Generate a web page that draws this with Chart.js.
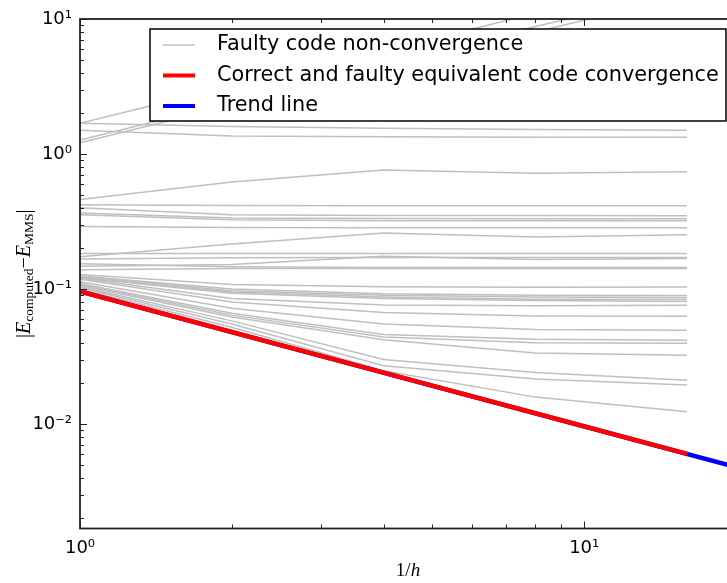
<!DOCTYPE html>
<html lang="en">
<head>
<meta charset="UTF-8">
<title>Code convergence</title>
<script src="https://cdn.jsdelivr.net/npm/chart.js"></script>
<style>
  html, body { margin: 0; padding: 0; background: #fff; overflow: hidden; }
  #wrap { width: 760px; height: 583px; }
</style>
</head>
<body>
<div id="wrap"><canvas id="conv" width="760" height="583"></canvas></div>
<script>
// refinement levels, 1/h
const invH = [1, 2, 4, 8, 16];

// correct code (and faulty but equivalent code): first order
const correctErr = [0.096, 0.048, 0.024, 0.012, 0.006];

// trend line, runs past the last level
const trendX = [1, 20];
const trendErr = [0.096, 0.0048];

// faulty codes that do not converge (one row per code, values at invH)
const faultyErr = [
  [1.69, 3.2, 5.8, 11, 20],
  [1.27, 2.4, 4.6, 8.8, 16],
  [1.21, 2.3, 4.3, 8.0, 15],
  [1.69, 1.60, 1.55, 1.52, 1.50],
  [1.50, 1.36, 1.34, 1.33, 1.33],
  [0.46, 0.62, 0.76, 0.72, 0.74],
  [0.42, 0.415, 0.413, 0.413, 0.413],
  [0.40, 0.355, 0.35, 0.35, 0.349],
  [0.365, 0.335, 0.332, 0.331, 0.331],
  [0.355, 0.325, 0.32, 0.32, 0.32],
  [0.29, 0.285, 0.284, 0.284, 0.284],
  [0.173, 0.215, 0.26, 0.243, 0.252],
  [0.183, 0.183, 0.183, 0.183, 0.183],
  [0.147, 0.152, 0.175, 0.165, 0.168],
  [0.167, 0.17, 0.171, 0.171, 0.171],
  [0.154, 0.146, 0.144, 0.144, 0.144],
  [0.139, 0.142, 0.142, 0.142, 0.142],
  [0.128, 0.108, 0.104, 0.103, 0.1035],
  [0.125, 0.100, 0.092, 0.090, 0.0895],
  [0.124, 0.097, 0.090, 0.087, 0.0865],
  [0.122, 0.095, 0.087, 0.084, 0.0837],
  [0.121, 0.093, 0.085, 0.082, 0.0809],
  [0.12, 0.085, 0.076, 0.075, 0.0756],
  [0.118, 0.080, 0.067, 0.063, 0.0627],
  [0.113, 0.072, 0.055, 0.050, 0.0494],
  [0.110, 0.066, 0.046, 0.0424, 0.0417],
  [0.108, 0.064, 0.044, 0.040, 0.0396],
  [0.106, 0.062, 0.042, 0.0336, 0.0323],
  [0.104, 0.058, 0.030, 0.024, 0.0211],
  [0.102, 0.055, 0.027, 0.0215, 0.0194],
  [0.100, 0.052, 0.0248, 0.0158, 0.0123]
];

const xTicks = [1, 10];
const xTickLabels = ['10⁰', '10¹'];
const yTicks = [0.01, 0.1, 1, 10];
const yTickLabels = ['10⁻²', '10⁻¹', '10⁰', '10¹'];

const legendLabels = [
  'Faulty code non-convergence',
  'Correct and faulty equivalent code convergence',
  'Trend line'
];

const GRAY = '#bfbfbf';

function pts(xs, ys) {
  return xs.map((x, i) => ({ x: x, y: ys[i] }));
}

const datasets = [
  { data: pts(invH, correctErr), borderColor: '#ff0000', borderWidth: 4.5, order: 0 },
  { data: pts(trendX, trendErr), borderColor: '#0000ff', borderWidth: 4.5, order: 1 }
];
faultyErr.forEach(row => {
  datasets.push({ data: pts(invH, row), borderColor: GRAY, borderWidth: 1.5, order: 2 });
});

// frame, inward ticks, axis titles and the boxed legend
const decorations = {
  id: 'decorations',
  afterDraw(chart) {
    const ctx = chart.ctx;
    const a = chart.chartArea;
    const x = chart.scales.x, y = chart.scales.y;
    ctx.save();

    function seg(x1, y1, x2, y2) {
      ctx.beginPath(); ctx.moveTo(x1, y1); ctx.lineTo(x2, y2); ctx.stroke();
    }

    ctx.strokeStyle = '#222';
    ctx.lineWidth = 1;
    for (let d = -3; d <= 1; d++) {
      for (let m = 1; m <= 9; m++) {
        const v = m * Math.pow(10, d);
        if (v >= y.min && v <= y.max) {
          const py = Math.round(y.getPixelForValue(v)) + 0.5;
          const len = m === 1 ? 7 : 4;
          seg(a.left, py, a.left + len, py);
          seg(a.right, py, a.right - len, py);
        }
        if (v >= x.min && v <= x.max) {
          const px = Math.round(x.getPixelForValue(v)) + 0.5;
          const len = m === 1 ? 7 : 4;
          seg(px, a.bottom, px, a.bottom - len);
          seg(px, a.top, px, a.top + len);
        }
      }
    }

    ctx.lineWidth = 1.8;
    ctx.strokeRect(a.left, a.top, a.right - a.left, a.bottom - a.top);

    // x title: 1/h
    ctx.fillStyle = '#000';
    ctx.textBaseline = 'middle';
    const cx = (a.left + a.right) / 2;
    ctx.font = '19px "Liberation Serif"';
    const w1 = ctx.measureText('1/').width;
    ctx.font = 'italic 19px "Liberation Serif"';
    const w2 = ctx.measureText('h').width;
    let tx = cx - (w1 + w2) / 2;
    ctx.textAlign = 'left';
    ctx.font = '19px "Liberation Serif"';
    ctx.fillText('1/', tx, 571);
    ctx.font = 'italic 19px "Liberation Serif"';
    ctx.fillText('h', tx + w1, 571);

    // y title: |E_computed - E_MMS|
    const parts = [
      { t: '|', f: '20px "Liberation Serif"', dy: 0 },
      { t: 'E', f: 'italic 20px "Liberation Serif"', dy: 0 },
      { t: 'computed', f: '13.5px "Liberation Serif"', dy: 4 },
      { t: '\u2212', f: '20px "Liberation Serif"', dy: 0 },
      { t: 'E', f: 'italic 20px "Liberation Serif"', dy: 0 },
      { t: 'MMS', f: '13.5px "Liberation Serif"', dy: 4 },
      { t: '|', f: '20px "Liberation Serif"', dy: 0 }
    ];
    let total = 0;
    parts.forEach(p => { ctx.font = p.f; p.w = ctx.measureText(p.t).width; total += p.w; });
    ctx.translate(25, (a.top + a.bottom) / 2);
    ctx.rotate(-Math.PI / 2);
    let px = -total / 2;
    parts.forEach(p => {
      ctx.font = p.f;
      ctx.fillText(p.t, px, p.dy);
      px += p.w;
    });
    ctx.setTransform(1, 0, 0, 1, 0, 0);

    // legend box
    const lx = 150, ly = 29, lw = 576, lh = 92;
    ctx.fillStyle = '#fff';
    ctx.fillRect(lx, ly, lw, lh);
    ctx.strokeStyle = '#000';
    ctx.lineWidth = 1.5;
    ctx.strokeRect(lx, ly, lw, lh);
    const rows = [
      { c: GRAY, w: 1.5, y: 45 },
      { c: '#ff0000', w: 4, y: 75.5 },
      { c: '#0000ff', w: 4, y: 106 }
    ];
    ctx.font = '20.8px "DejaVu Sans"';
    ctx.textAlign = 'left';
    ctx.textBaseline = 'middle';
    rows.forEach((r, i) => {
      ctx.strokeStyle = r.c;
      ctx.lineWidth = r.w;
      seg(163, r.y, 195, r.y);
      ctx.fillStyle = '#000';
      ctx.fillText(legendLabels[i], 217, r.y);
    });
    ctx.restore();
  }
};

new Chart(document.getElementById('conv'), {
  type: 'line',
  data: { datasets: datasets },
  options: {
    responsive: false,
    animation: false,
    parsing: true,
    elements: { point: { radius: 0 }, line: { tension: 0, fill: false } },
    layout: { padding: { top: 19, right: 24, left: 0, bottom: 0 } },
    plugins: { legend: { display: false }, tooltip: { enabled: false } },
    scales: {
      x: {
        type: 'logarithmic',
        min: 1,
        max: 20,
        grid: { display: false, drawTicks: false },
        border: { display: false },
        afterBuildTicks(s) { s.ticks = xTicks.map(v => ({ value: v })); },
        afterFit(s) { s.height = 54.5; },
        ticks: {
          color: '#000',
          padding: 9,
          maxRotation: 0,
          font: { family: 'DejaVu Sans', size: 18 },
          callback: (v) => xTickLabels[xTicks.indexOf(v)]
        }
      },
      y: {
        type: 'logarithmic',
        min: 0.00168,
        max: 10,
        grid: { display: false, drawTicks: false },
        border: { display: false },
        afterBuildTicks(s) { s.ticks = yTicks.map(v => ({ value: v })); },
        afterFit(s) { s.width = 80; },
        ticks: {
          color: '#000',
          padding: 8,
          font: { family: 'DejaVu Sans', size: 18 },
          callback: (v) => yTickLabels[yTicks.indexOf(v)]
        }
      }
    }
  },
  plugins: [decorations]
});
</script>
</body>
</html>
